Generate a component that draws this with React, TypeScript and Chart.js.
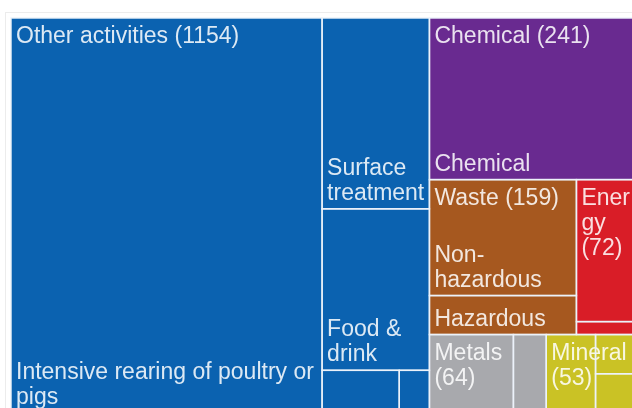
import React, { useEffect, useRef } from "react";
import { Chart, registerables } from "chart.js";

Chart.register(...registerables);

// ---- Data ----
const sectorNames = ["Other activities", "Chemical", "Waste", "Energy", "Metals", "Mineral"];
const sectorTotals = [1154, 241, 159, 72, 64, 53];
const sectorColors = ["#0b62b0", "#692a90", "#a6581f", "#d91d27", "#a8a9ad", "#cac225"];

const otherLeaves = ["Intensive rearing of poultry or pigs", "Surface treatment", "Food & drink", "", ""];
const otherValues = [858, 143, 121, 23, 9];
const chemicalLeaves = ["Chemical"];
const chemicalValues = [241];
const wasteLeaves = ["Non-hazardous", "Hazardous"];
const wasteValues = [119, 40];
const energyLeaves = ["", ""];
const energyValues = [66, 6];
const metalsLeaves = ["", ""];
const metalsValues = [46, 18];
const mineralLeaves = ["", "", ""];
const mineralValues = [27, 13, 13];

const leafNames = [otherLeaves, chemicalLeaves, wasteLeaves, energyLeaves, metalsLeaves, mineralLeaves];
const leafValues = [otherValues, chemicalValues, wasteValues, energyValues, metalsValues, mineralValues];

type R = { x: number; y: number; w: number; h: number };

function squarify(values: number[], rect: R, tol = 1.25): R[] {
  const out: R[] = [];
  let { x, y, w, h } = rect;
  let total = values.reduce((a, b) => a + b, 0);
  let i = 0;
  while (i < values.length) {
    const short = Math.min(w, h);
    const scale = (w * h) / total;
    const worst = (r: number[]) => {
      const s = r.reduce((a, b) => a + b, 0) * scale;
      const t = s / short;
      let m = 0;
      for (const v of r) {
        const len = (v * scale) / t;
        const a = Math.max(t / len, len / t);
        if (a > m) m = a;
      }
      return m;
    };
    let row = [values[i]];
    let j = i + 1;
    let cur = worst(row);
    while (j < values.length) {
      const cand = [...row, values[j]];
      const nw = worst(cand);
      if (nw <= cur * tol) {
        row = cand;
        cur = nw;
        j++;
      } else break;
    }
    const s = row.reduce((a, b) => a + b, 0);
    const t = (s * scale) / short;
    if (w >= h) {
      let yy = y;
      for (const v of row) {
        const len = (v * scale) / t;
        out.push({ x, y: yy, w: t, h: len });
        yy += len;
      }
      x += t;
      w -= t;
    } else {
      let xx = x;
      for (const v of row) {
        const len = (v * scale) / t;
        out.push({ x: xx, y, w: len, h: t });
        xx += len;
      }
      y += t;
      h -= t;
    }
    total -= s;
    i = j;
  }
  return out;
}

function wrap(ctx: CanvasRenderingContext2D, text: string, maxW: number): string[] {
  const lines: string[] = [];
  let line = "";
  for (const word of text.split(" ")) {
    const parts = word.split(/(?<=-)/);
    for (let pi = 0; pi < parts.length; pi++) {
      const part = parts[pi];
      const sep = pi === 0 && line ? " " : "";
      const cand = line + sep + part;
      if (ctx.measureText(cand).width <= maxW) {
        line = cand;
        continue;
      }
      if (line) {
        lines.push(line);
        line = "";
      }
      if (ctx.measureText(part).width <= maxW) {
        line = part;
      } else {
        let c = "";
        for (const ch of part) {
          if (!c || ctx.measureText(c + ch).width <= maxW) c += ch;
          else {
            lines.push(c);
            c = ch;
          }
        }
        line = c;
      }
    }
  }
  if (line) lines.push(line);
  return lines;
}

const FONT = '23px "Liberation Sans", Arial, sans-serif';
const LINE_H = 25;
const PAD = 5;

const treemapPlugin = {
  id: "treemapCells",
  afterDraw(chart: any) {
    const ctx: CanvasRenderingContext2D = chart.ctx;
    const xs = chart.scales.x;
    const ys = chart.scales.y;
    const ca = chart.chartArea;
    const W = ca.right - ca.left;
    const H = ca.bottom - ca.top;
    const toPx = (r: R) => {
      const x0 = xs.getPixelForValue(r.x / W);
      const x1 = xs.getPixelForValue((r.x + r.w) / W);
      const y0 = ys.getPixelForValue(r.y / H);
      const y1 = ys.getPixelForValue((r.y + r.h) / H);
      return { x: Math.min(x0, x1), y: Math.min(y0, y1), w: Math.abs(x1 - x0), h: Math.abs(y1 - y0) };
    };
    const sectors = squarify(sectorTotals, { x: 0, y: 0, w: W, h: H });
    const leafRects: { r: R; color: string; name: string }[] = [];
    sectors.forEach((sr, si) => {
      const leaves = squarify(leafValues[si], sr);
      leaves.forEach((lr, li) => leafRects.push({ r: toPx(lr), color: sectorColors[si], name: leafNames[si][li] }));
    });
    ctx.save();
    // fills
    for (const l of leafRects) {
      ctx.fillStyle = l.color;
      ctx.fillRect(l.r.x, l.r.y, l.r.w, l.r.h);
    }
    ctx.font = FONT;
    ctx.fillStyle = "rgba(255,255,255,0.86)";
    ctx.textBaseline = "alphabetic";
    ctx.textAlign = "left";
    // leaf labels bottom-left
    for (const l of leafRects) {
      if (!l.name) continue;
      const lines = wrap(ctx, l.name, l.r.w - 2 * PAD);
      const base = l.r.y + l.r.h - 9;
      lines.forEach((ln, k) => {
        ctx.fillText(ln, l.r.x + PAD, base - (lines.length - 1 - k) * LINE_H);
      });
    }
    // sector labels top-left
    sectors.forEach((sr, si) => {
      const p = toPx(sr);
      const lines = wrap(ctx, `${sectorNames[si]} (${sectorTotals[si]})`, p.w - 2 * PAD);
      lines.forEach((ln, k) => ctx.fillText(ln, p.x + PAD, p.y + 25 + k * LINE_H));
    });
    // borders
    ctx.strokeStyle = "rgba(236,242,250,0.95)";
    ctx.lineWidth = 1.5;
    for (const l of leafRects) {
      ctx.strokeRect(l.r.x, l.r.y, l.r.w, l.r.h);
    }
    ctx.restore();
  },
};

export default function App() {
  const ref = useRef<HTMLCanvasElement>(null);
  useEffect(() => {
    if (!ref.current) return;
    const chart = new Chart(ref.current, {
      type: "scatter",
      data: { datasets: [{ label: "cells", data: [] }] },
      options: {
        animation: false,
        responsive: false,
        devicePixelRatio: 1,
        layout: { padding: { left: 11, top: 18, right: 17, bottom: 17 } },
        plugins: { legend: { display: false }, tooltip: { enabled: false } },
        scales: {
          x: { type: "linear", min: 0, max: 1, display: false },
          y: { type: "linear", min: 0, max: 1, reverse: true, display: false },
        },
      },
      plugins: [treemapPlugin],
    });
    return () => chart.destroy();
  }, []);
  return (
    <div
      style={{
        position: "fixed",
        left: 0,
        top: 0,
        width: 632,
        height: 408,
        overflow: "hidden",
        background: "#fff",
      }}
    >
      <div
        style={{
          position: "absolute",
          left: 5,
          top: 12,
          right: -10,
          bottom: -10,
          borderLeft: "1px solid #ececec",
          borderTop: "1px solid #ececec",
        }}
      />
      <canvas ref={ref} width={660} height={430} style={{ position: "absolute", left: 0, top: 0 }} />
    </div>
  );
}
